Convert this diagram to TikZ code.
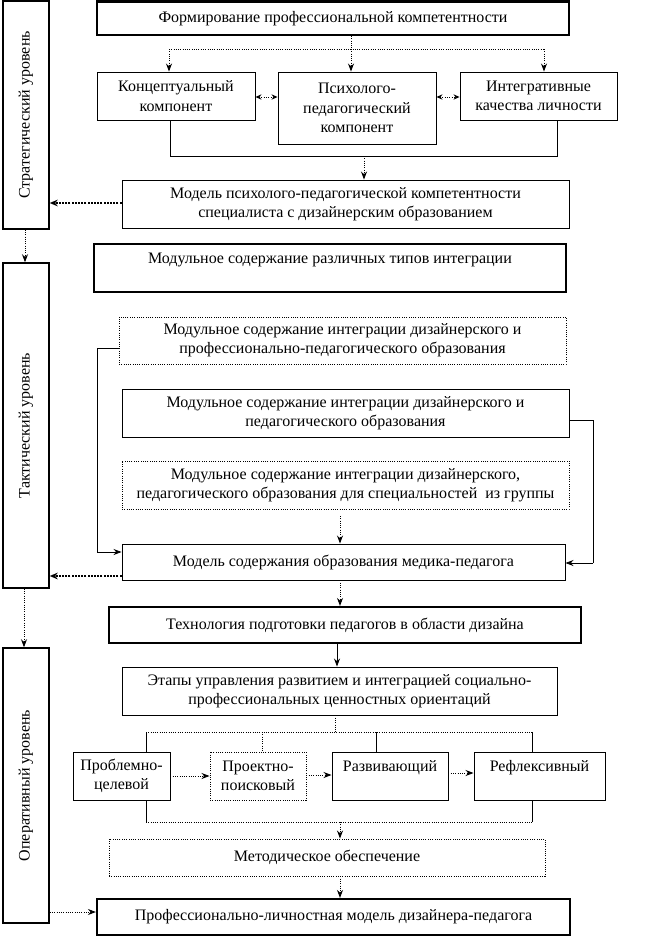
\documentclass[tikz,border=0pt]{standalone}
\usepackage{fontspec}
\setmainfont{Liberation Serif}
\usetikzlibrary{arrows.meta}
\begin{document}
\begin{tikzpicture}[x=0.75pt,y=-0.75pt,
  every node/.style={font=\fontsize{12}{14.5}\selectfont, align=center},
  bx/.style n args={4}{minimum width={(#3-#1)*0.75pt}, minimum height={(#4-#2)*0.75pt}, at={({(#1+#3)/2},{(#2+#4)/2})}},
  box/.style={draw, line width=0.7pt, inner sep=0pt},
  thickbox/.style={draw, line width=1.6pt, inner sep=0pt},
  dotbox/.style={draw, line width=0.7pt, densely dotted, inner sep=0pt},
  barbox/.style={draw, line width=1.1pt, inner sep=0pt},
  conn/.style={line width=0.6pt},
  dconn/.style={line width=0.7pt, densely dotted},
  arr/.style={line width=0.6pt, -{Stealth[length=6pt,width=4.5pt]}},
  darr/.style={line width=0.7pt, densely dotted, -{Stealth[length=6pt,width=4.5pt]}},
  tarr/.style={line width=1.4pt, densely dotted, -{Stealth[length=6pt,width=5pt]}},
  biarr/.style={line width=0.7pt, densely dotted, {Stealth[length=4.5pt,width=4pt]}-{Stealth[length=4.5pt,width=4pt]}}
]
\useasboundingbox (0,0) rectangle (648,936);

% side bars
\node[barbox, bx={3}{0.8}{49}{229}] (S) {};
\node[rotate=90] (St) at (S.center) {Стратегический уровень};
\node[barbox, bx={3}{263}{49}{588}] (Tc) {};
\node[rotate=90] (Tct) at (Tc.center) {Тактический уровень};
\node[barbox, bx={3}{648}{49}{923}] (O) {};
\node[rotate=90] (Ot) at (O.center) {Оперативный уровень};

% boxes
\node[thickbox, bx={97}{1.5}{569}{35}] (F) {Формирование профессиональной компетентности};
\node[box, bx={97}{72}{255}{120}] (K) {Концептуальный\\компонент};
\node[box, bx={278}{72}{436}{144}] (P) {Психолого-\\педагогический\\компонент};
\node[box, bx={460}{72}{617}{120}] (I) {Интегративные\\качества личности};
\node[box, bx={122}{180}{569}{228}] (M1) {Модель психолого-педагогической компетентности\\специалиста с дизайнерским образованием};
\node[thickbox, bx={94}{244}{566}{292}] (Mod) {Модульное содержание различных типов интеграции\\\mbox{}};
\node[dotbox, bx={119}{317}{566}{364}] (A1) {Модульное содержание интеграции дизайнерского и\\профессионально-педагогического образования};
\node[box, bx={122}{389}{569}{437}] (A2) {Модульное содержание интеграции дизайнерского и\\педагогического образования};
\node[dotbox, bx={122}{461}{569}{509}] (A3) {Модульное содержание интеграции дизайнерского,\\педагогического образования для специальностей \ из группы};
\node[box, bx={122}{544}{565}{580}] (M2) {Модель содержания образования медика-педагога};
\node[thickbox, bx={109}{607}{581}{643}] (T) {Технология подготовки педагогов в области дизайна};
\node[box, bx={122}{667}{557}{715}] (E) {Этапы управления развитием и интеграцией социально-\\профессиональных ценностных ориентаций};
\node[box, bx={73}{752}{170}{800}] (Pr1) {Проблемно-\\целевой};
\node[dotbox, bx={210}{752}{306}{800}] (Pr2) {Проектно-\\поисковый};
\node[box, bx={332}{752}{448}{800}] (Pr3) {Развивающий\\\mbox{}};
\node[box, bx={474}{752}{605}{800}] (Pr4) {Рефлексивный\\\mbox{}};
\node[dotbox, bx={109}{839}{545}{876}] (Met) {Методическое обеспечение};
\node[thickbox, bx={97}{899}{570}{935}] (Fin) {Профессионально-личностная модель дизайнера-педагога};

% coordinates
\coordinate (c1) at (169,49);
\coordinate (c2) at (351,49);
\coordinate (c3) at (544,49);
\coordinate (d1) at (0,97);
\coordinate (b1) at (170,156);
\coordinate (b2) at (557,156);
\coordinate (b3) at (364,156);
\coordinate (m1) at (0,203);
\coordinate (s1) at (25,0);
\coordinate (a1) at (97,348);
\coordinate (a1b) at (97,552);
\coordinate (a2) at (593,420);
\coordinate (a2b) at (593,563);
\coordinate (x340) at (340,0);
\coordinate (y576) at (0,576);
\coordinate (s2) at (24,0);
\coordinate (x337) at (337,0);
\coordinate (e0) at (335,732);
\coordinate (e1) at (146,732);
\coordinate (e2) at (262,732);
\coordinate (e3) at (376,732);
\coordinate (e4) at (532,732);
\coordinate (p1) at (0,776);
\coordinate (p2) at (0,775);
\coordinate (p3) at (0,773);
\coordinate (f1) at (146,822);
\coordinate (f2) at (532,822);
\coordinate (f3) at (340,822);
\coordinate (y912) at (0,912);

% top fan-out
\draw[dconn] (F.south -| c2) -- (c2);
\draw[dconn] (c1) -- (c3);
\draw[darr] (c1) -- (K.north -| c1);
\draw[darr] (c2) -- (P.north -| c2);
\draw[darr] (c3) -- (I.north -| c3);
\draw[biarr] (K.east |- d1) -- (P.west |- d1);
\draw[biarr] (P.east |- d1) -- (I.west |- d1);
% collect
\draw[conn] (K.south -| b1) -- (b1) -- (b2) -- (I.south -| b2);
\draw[darr] (b3) -- (M1.north -| b3);
\draw[tarr] (M1.west |- m1) -- (S.east |- m1);
% level arrows
\draw[darr] (S.south -| s1) -- (Tc.north -| s1);
\draw[darr] (Tc.south -| s2) -- (O.north -| s2);
% tactical
\draw[conn] (A1.west |- a1) -- (a1) -- (a1b);
\draw[arr] (a1b) -- (M2.west |- a1b);
\draw[conn] (A2.east |- a2) -- (a2) -- (a2b);
\draw[arr] (a2b) -- (M2.east |- a2b);
\draw[darr, shorten <=5pt] (A3.south -| x340) -- (M2.north -| x340);
\draw[tarr] (M2.west |- y576) -- (Tc.east |- y576);
\draw[darr] (M2.south -| x340) -- (T.north -| x340);
\draw[arr] (T.south -| x337) -- (E.north -| x337);
% operative
\draw[dconn] (E.south -| e0) -- (e0);
\draw[dconn] (e1) -- (e4);
\draw[conn] (e1) -- (Pr1.north -| e1);
\draw[dconn] (e2) -- (Pr2.north -| e2);
\draw[conn] (e3) -- (Pr3.north -| e3);
\draw[conn] (e4) -- (Pr4.north -| e4);
\draw[darr] (Pr1.east |- p1) -- (Pr2.west |- p1);
\draw[darr] (Pr2.east |- p2) -- (Pr3.west |- p2);
\draw[darr] (Pr3.east |- p3) -- (Pr4.west |- p3);
\draw[conn] (Pr1.south -| f1) -- (f1);
\draw[dconn] (f1) -- (f2);
\draw[conn] (f2) -- (Pr4.south -| f2);
\draw[darr] (f3) -- (Met.north -| f3);
\draw[darr] (Met.south -| x340) -- (Fin.north -| x340);
\draw[darr] (O.east |- y912) -- (Fin.west |- y912);
\end{tikzpicture}
\end{document}
